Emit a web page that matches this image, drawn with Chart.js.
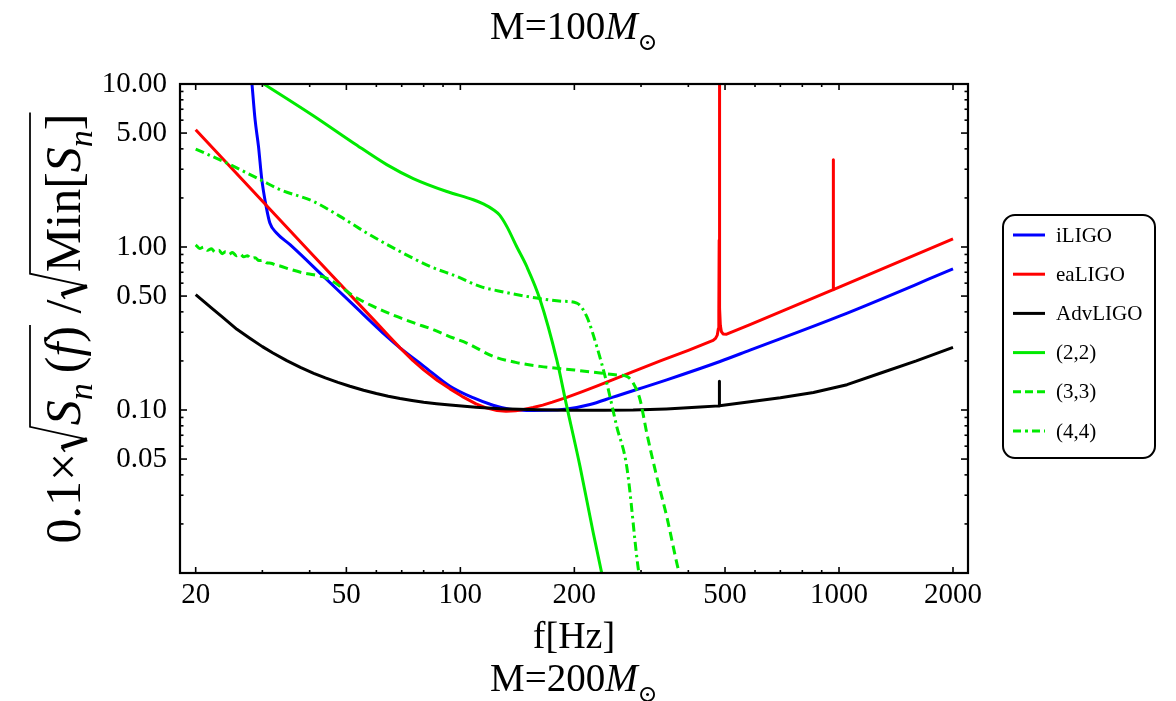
<!DOCTYPE html>
<html><head><meta charset="utf-8">
<script src="https://cdn.jsdelivr.net/npm/chart.js@4.4.1/dist/chart.umd.min.js"></script>
<style>html,body{margin:0;padding:0;background:#fff;}canvas{display:block;}</style>
</head><body>
<canvas id="c" width="1176" height="701"></canvas>
<script>
const SERIF = '"Liberation Serif", "DejaVu Serif", serif';

// ---- data (frequency in Hz, value) ----
const fILIGO = [28.0, 28.1, 28.7, 29.3, 29.9, 30.7, 31.4, 32.7, 35.5, 43.5, 52.1, 63.9, 69.3, 80, 93.9, 108, 122, 135, 149.7, 170, 191, 220, 253, 350.8, 485, 582, 1007, 2000];
const vILIGO = [11.5, 10.6, 6.04, 4.14, 2.59, 1.775, 1.403, 1.219, 1.033, 0.66, 0.4426, 0.2828, 0.2404, 0.186, 0.14, 0.119, 0.107, 0.101, 0.0994, 0.0995, 0.1013, 0.108, 0.12, 0.1532, 0.1985, 0.233, 0.378, 0.733];

const fEALIGO = [20, 40, 60, 65.2, 69.3, 75, 80, 87, 93.9, 101, 110, 117, 125, 132, 140, 147, 155.6, 165, 175, 191, 210, 230, 256, 285.8, 340, 400, 465, 472, 477, 480, 481.5, 482.5, 483, 483.5, 484.5, 486, 489, 494, 505, 582, 965.5, 966, 966.5, 2000];
const vEALIGO = [5.24, 0.935, 0.3437, 0.2797, 0.2406, 0.2007, 0.1764, 0.1517, 0.1348, 0.1213, 0.109, 0.1031, 0.0994, 0.0983, 0.0989, 0.1006, 0.1035, 0.1072, 0.1117, 0.1196, 0.1296, 0.1407, 0.1554, 0.1722, 0.2013, 0.2323, 0.267, 0.275, 0.288, 0.315, 0.41, 1.1, 40, 1.1, 0.42, 0.33, 0.303, 0.293, 0.292, 0.3337, 0.5472, 3.43, 0.5475, 1.12];

const fADV = [20, 21, 22, 23.5, 25.7, 27.8, 30, 32, 34.8, 37.8, 41, 44, 47.5, 51.1, 55.5, 60, 64.5, 69.3, 74.5, 80, 86.5, 93.9, 110, 127.3, 160, 191, 240, 286, 350, 430, 482.5, 483, 483.5, 582, 700, 856, 1050, 1284, 1600, 2000];
const vADV = [0.51, 0.4637, 0.4235, 0.3725, 0.3126, 0.2755, 0.2448, 0.2236, 0.2008, 0.1826, 0.168, 0.1574, 0.1477, 0.1398, 0.1322, 0.1262, 0.1215, 0.1176, 0.1144, 0.1117, 0.1093, 0.1072, 0.1039, 0.1018, 0.1002, 0.0998, 0.0997, 0.1, 0.1016, 0.1043, 0.106, 0.15, 0.1062, 0.1125, 0.119, 0.128, 0.143, 0.168, 0.2, 0.242];

const f22 = [28, 30.5, 40.9, 52.2, 63.9, 75.1, 92.1, 108.2, 115, 122.2, 127, 132.6, 141, 149.7, 162.4, 179.7, 191, 207, 224.4, 236.2, 240];
const v22 = [11.2, 9.89, 6.39, 4.35, 3.2, 2.63, 2.19, 1.95, 1.84, 1.694, 1.568, 1.338, 1.0, 0.76, 0.475, 0.2035, 0.1052, 0.0451, 0.0176, 0.01, 0.0085];

const f33 = [20, 20.5, 21, 21.5, 22, 22.5, 23, 23.5, 24, 24.5, 25, 25.6, 26.2, 26.8, 27.4, 28, 28.7, 29.4, 30.1, 30.8, 31.6, 32.5, 33.4, 35.5, 38.5, 41, 43.5, 46, 48.1, 52.2, 58.9, 67.9, 76, 84.8, 95.8, 103.9, 122.2, 140, 162.4, 200, 234, 260, 275, 286, 298.2, 310.7, 330, 350.8, 376.5, 382];
const v33 = [1.03, 0.98, 1.0, 0.955, 0.975, 0.93, 0.955, 0.91, 0.935, 0.9, 0.925, 0.885, 0.905, 0.87, 0.885, 0.85, 0.86, 0.825, 0.83, 0.8, 0.795, 0.775, 0.765, 0.73, 0.693, 0.675, 0.655, 0.615, 0.575, 0.5, 0.432, 0.375, 0.34, 0.311, 0.2765, 0.2576, 0.2132, 0.196, 0.1852, 0.176, 0.1687, 0.164, 0.1608, 0.1464, 0.1157, 0.0722, 0.0391, 0.0222, 0.01048, 0.0093];

const f44 = [20, 24.1, 29.6, 33.4, 40.9, 48.1, 56.6, 67.9, 83.2, 97.8, 112.7, 130, 159.1, 185, 203, 215.6, 229.2, 243.6, 258.8, 275, 295.2, 298];
const v44 = [3.99, 3.28, 2.59, 2.25, 1.905, 1.541, 1.219, 0.962, 0.76, 0.66, 0.573, 0.53, 0.486, 0.465, 0.453, 0.375, 0.2456, 0.1464, 0.0793, 0.0451, 0.0105, 0.0093];

const seriesLabels = ['iLIGO', 'eaLIGO', 'AdvLIGO', '(2,2)', '(3,3)', '(4,4)'];

const xTickValues = [20, 50, 100, 200, 500, 1000, 2000];
const xMinorTicks = [30, 40, 60, 70, 80, 90, 300, 400, 600, 700, 800, 900];
const yTickValues = [0.05, 0.1, 0.5, 1, 5, 10];
const yTickLabels = ['0.05', '0.10', '0.50', '1.00', '5.00', '10.00'];
const yMinorTicks = [0.02, 0.03, 0.04, 0.06, 0.07, 0.08, 0.09, 0.2, 0.3, 0.4, 0.6, 0.7, 0.8, 0.9, 2, 3, 4, 6, 7, 8, 9];

const pts = (fs, vs) => fs.map((f, i) => ({x: f, y: vs[i]}));
const GREEN = '#00ea00';

function ds(label, fs, vs, color, dash, order, smooth) {
  const d = {label, data: pts(fs, vs), borderColor: color, backgroundColor: color, borderWidth: 3,
    borderDash: dash, pointRadius: 0, fill: false, order, tension: 0, borderJoinStyle: 'round'};
  if (smooth) d.cubicInterpolationMode = 'monotone';
  return d;
}

// ---- text helpers ----
function fontFor(style, F) {
  if (style === 'i') return `italic ${F}px ${SERIF}`;
  if (style === 'sub') return `italic ${Math.round(F * 0.68)}px ${SERIF}`;
  if (style === 'sym') return `${Math.round(F * 0.62)}px ${SERIF}`;
  return `${F}px ${SERIF}`;
}
const DY = {sub: 0.24, sym: 0.29};
function runsWidth(ctx, runs, F) {
  let w = 0;
  for (const r of runs) {
    if (r.rad === 'open') { w += 0.55 * F; continue; }
    if (r.rad) continue;
    ctx.font = fontFor(r.s, F); w += ctx.measureText(r.t).width;
  }
  return w;
}
function drawRuns(ctx, runs, F, x0, y0) {
  let x = x0, radStart = null;
  ctx.textAlign = 'left'; ctx.textBaseline = 'alphabetic'; ctx.fillStyle = '#000'; ctx.strokeStyle = '#000';
  for (const r of runs) {
    if (r.rad === 'open') { radStart = x; x += 0.55 * F; continue; }
    if (r.rad === 'close') {
      const s = radStart, top = y0 - 1.0 * F;
      ctx.lineCap = 'butt';
      ctx.beginPath(); ctx.lineWidth = F * 0.035;
      ctx.moveTo(s + 0.02 * F, y0 - 0.30 * F); ctx.lineTo(s + 0.11 * F, y0 - 0.37 * F); ctx.stroke();
      ctx.beginPath(); ctx.lineWidth = F * 0.085;
      ctx.moveTo(s + 0.11 * F, y0 - 0.37 * F); ctx.lineTo(s + 0.27 * F, y0 + 0.14 * F); ctx.stroke();
      ctx.beginPath(); ctx.lineWidth = F * 0.035;
      ctx.moveTo(s + 0.27 * F, y0 + 0.14 * F); ctx.lineTo(s + 0.52 * F, top); ctx.lineTo(x + 0.02 * F, top); ctx.stroke();
      continue;
    }
    ctx.font = fontFor(r.s, F);
    ctx.fillText(r.t, x, y0 + (DY[r.s] || 0) * F);
    x += ctx.measureText(r.t).width;
  }
}

const titleTop = [{t: 'M=100', s: 'n'}, {t: 'M', s: 'i'}, {t: '\u2299', s: 'sym'}];
const titleBottom = [{t: 'M=200', s: 'n'}, {t: 'M', s: 'i'}, {t: '\u2299', s: 'sym'}];
const xTitle = [{t: 'f[Hz]', s: 'n'}];
const yTitle = [{t: '0.1\u00d7', s: 'n'}, {rad: 'open'}, {t: 'S', s: 'i'}, {t: 'n', s: 'sub'}, {t: '\u2009(', s: 'n'},
  {t: 'f', s: 'i'}, {t: ')', s: 'n'}, {rad: 'close'}, {t: ' /', s: 'n'}, {rad: 'open'}, {t: 'Min[', s: 'n'},
  {t: 'S', s: 'i'}, {t: 'n', s: 'sub'}, {t: ']', s: 'n'}, {rad: 'close'}];

const decor = {
  id: 'decor',
  beforeDraw(chart) {
    const c = chart.ctx; c.save(); c.fillStyle = '#fff'; c.fillRect(0, 0, chart.width, chart.height); c.restore();
  },
  afterDraw(chart) {
    const ctx = chart.ctx, a = chart.chartArea, xs = chart.scales.x, ys = chart.scales.y;
    ctx.save();
    ctx.strokeStyle = '#000'; ctx.lineWidth = 1.6; ctx.setLineDash([]);
    const seg = (x1, y1, x2, y2) => { ctx.beginPath(); ctx.moveTo(x1, y1); ctx.lineTo(x2, y2); ctx.stroke(); };
    const tx = (v, L) => { const p = xs.getPixelForValue(v); seg(p, a.bottom, p, a.bottom - L); seg(p, a.top, p, a.top + L); };
    const ty = (v, L) => { const p = ys.getPixelForValue(v); seg(a.left, p, a.left + L, p); seg(a.right, p, a.right - L, p); };
    xTickValues.forEach(v => tx(v, 6)); xMinorTicks.forEach(v => tx(v, 3));
    yTickValues.forEach(v => ty(v, 7)); yMinorTicks.forEach(v => ty(v, 3.5));
    ctx.lineWidth = 2.2;
    ctx.strokeRect(a.left, a.top, a.right - a.left, a.bottom - a.top);

    const cx = (a.left + a.right) / 2;
    let F = 39, w;
    w = runsWidth(ctx, titleTop, F); drawRuns(ctx, titleTop, F, cx - w / 2, 39);
    F = 38;
    w = runsWidth(ctx, xTitle, F); drawRuns(ctx, xTitle, F, cx - w / 2, 648);
    F = 39;
    w = runsWidth(ctx, titleBottom, F); drawRuns(ctx, titleBottom, F, cx - w / 2, 691);

    F = 50;
    w = runsWidth(ctx, yTitle, F);
    ctx.save();
    ctx.translate(80, (a.top + a.bottom) / 2 + w / 2);
    ctx.rotate(-Math.PI / 2);
    drawRuns(ctx, yTitle, F, 0, 0);
    ctx.restore();

    const L = {x: 1003, y: 215, w: 152, h: 243, r: 12};
    ctx.lineWidth = 2; ctx.strokeStyle = '#000';
    ctx.beginPath(); ctx.roundRect(L.x, L.y, L.w, L.h, L.r); ctx.stroke();
    ctx.font = `21px ${SERIF}`; ctx.textBaseline = 'middle'; ctx.textAlign = 'left'; ctx.fillStyle = '#000';
    chart.data.datasets.forEach((d, i) => {
      const y = 235 + i * 39.2;
      ctx.strokeStyle = d.borderColor; ctx.lineWidth = 3;
      ctx.setLineDash(d.legendDash || d.borderDash || []);
      seg(1013, y, 1045, y);
      ctx.setLineDash([]);
      ctx.fillText(d.label, 1056, y + 1);
    });
    ctx.restore();
  }
};

const datasets = [
  ds(seriesLabels[0], fILIGO, vILIGO, '#0000ff', [], 6, true),
  ds(seriesLabels[1], fEALIGO, vEALIGO, '#ff0000', [], 5, false),
  ds(seriesLabels[2], fADV, vADV, '#000000', [], 4, false),
  ds(seriesLabels[3], f22, v22, GREEN, [], 3, true),
  ds(seriesLabels[4], f33, v33, GREEN, [9, 5], 2, true),
  ds(seriesLabels[5], f44, v44, GREEN, [9, 4, 2.5, 4], 1, true)
];
datasets[4].legendDash = [8, 4];
datasets[5].legendDash = [8, 4, 3, 4];

new Chart(document.getElementById('c'), {
  type: 'line',
  data: {datasets},
  plugins: [decor],
  options: {
    responsive: false, animation: false, events: [],
    layout: {padding: {left: 0, right: 208, top: 84, bottom: 0}},
    plugins: {legend: {display: false}, tooltip: {enabled: false}, title: {display: false}},
    scales: {
      x: {
        type: 'logarithmic', min: 18.18, max: 2191,
        grid: {display: false}, border: {display: false},
        afterBuildTicks: s => { s.ticks = xTickValues.map(v => ({value: v})); },
        afterFit: s => { s.height = 128; s.paddingLeft = 0; s.paddingRight = 0; },
        ticks: {autoSkip: false, maxRotation: 0, padding: -3, color: '#000',
          font: {family: SERIF, size: 29}, callback: v => String(v)}
      },
      y: {
        type: 'logarithmic', min: 0.01, max: 10,
        grid: {display: false}, border: {display: false},
        afterBuildTicks: s => { s.ticks = yTickValues.map(v => ({value: v})); },
        afterFit: s => { s.width = 180; s.paddingTop = 0; s.paddingBottom = 0; },
        ticks: {autoSkip: false, padding: 5, color: '#000',
          font: {family: SERIF, size: 29},
          callback: v => yTickLabels[yTickValues.indexOf(v)] ?? ''}
      }
    }
  }
});
</script>
</body></html>
